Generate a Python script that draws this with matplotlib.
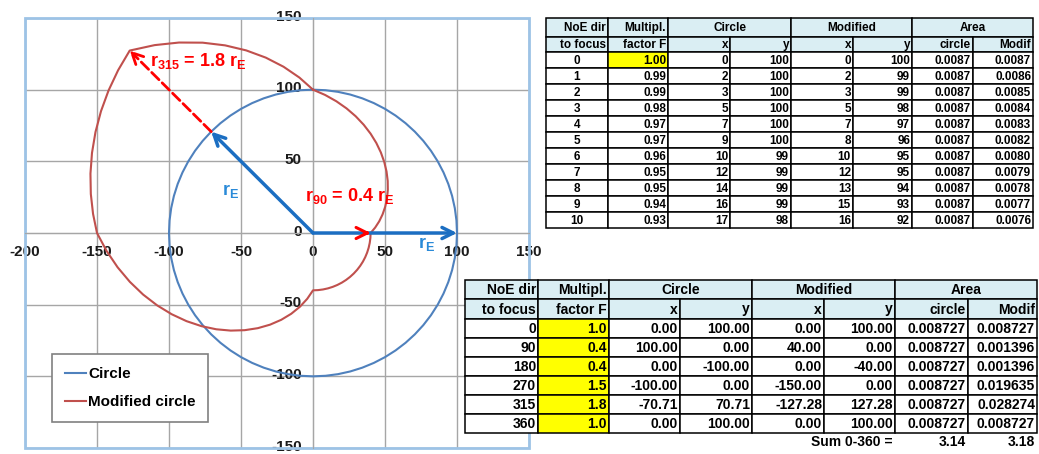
import numpy as np
import matplotlib
matplotlib.use('Agg')
import matplotlib.pyplot as plt
from matplotlib.patches import Rectangle
from matplotlib.lines import Line2D
from matplotlib.transforms import ScaledTranslation

plt.rcParams['font.family'] = ['Liberation Sans', 'DejaVu Sans']
plt.rcParams['axes.unicode_minus'] = False
plt.rcParams['mathtext.fontset'] = 'custom'
plt.rcParams['mathtext.rm'] = 'Liberation Sans:bold'
plt.rcParams['mathtext.it'] = 'Liberation Sans:bold'
plt.rcParams['mathtext.bf'] = 'Liberation Sans:bold'

# Radius of the earth circle and direction grid (degrees, clockwise from north)
r_E = 100
dirs = np.arange(0, 361, 5)

# Multiplication factor F per direction (read from the spreadsheet, every 5 deg)
mod_F = [1.0000, 0.9667, 0.9333, 0.9000, 0.8667, 0.8333, 0.8000, 0.7667, 0.7333, 0.7000,
         0.6667, 0.6333, 0.6000, 0.5667, 0.5333, 0.5000, 0.4667, 0.4333, 0.4000,
         0.4, 0.4, 0.4, 0.4, 0.4, 0.4, 0.4, 0.4, 0.4, 0.4, 0.4, 0.4, 0.4, 0.4, 0.4, 0.4, 0.4, 0.4,
         0.4611, 0.5222, 0.5833, 0.6444, 0.7056, 0.7667, 0.8278, 0.8889, 0.9500,
         1.0111, 1.0722, 1.1333, 1.1944, 1.2556, 1.3167, 1.3778, 1.4389, 1.5000,
         1.5333, 1.5667, 1.6000, 1.6333, 1.6667, 1.7000, 1.7333, 1.7667, 1.8000,
         1.7111, 1.6222, 1.5333, 1.4444, 1.3556, 1.2667, 1.1778, 1.0889, 1.0000]

# Top table (first directions)
top_dir = [0, 1, 2, 3, 4, 5, 6, 7, 8, 9, 10]
top_F = [1.00, 0.99, 0.99, 0.98, 0.97, 0.97, 0.96, 0.95, 0.95, 0.94, 0.93]
top_cx = [0, 2, 3, 5, 7, 9, 10, 12, 14, 16, 17]
top_cy = [100, 100, 100, 100, 100, 100, 99, 99, 99, 99, 98]
top_mx = [0, 2, 3, 5, 7, 8, 10, 12, 13, 15, 16]
top_my = [100, 99, 99, 98, 97, 96, 95, 95, 94, 93, 92]
top_ac = [0.0087] * 11
top_am = [0.0087, 0.0086, 0.0085, 0.0084, 0.0083, 0.0082, 0.0080, 0.0079, 0.0078, 0.0077, 0.0076]

# Bottom table (key directions)
key_dir = [0, 90, 180, 270, 315, 360]
key_F = [1.0, 0.4, 0.4, 1.5, 1.8, 1.0]
key_cx = [0.00, 100.00, 0.00, -100.00, -70.71, 0.00]
key_cy = [100.00, 0.00, -100.00, 0.00, 70.71, 100.00]
key_mx = [0.00, 40.00, 0.00, -150.00, -127.28, 0.00]
key_my = [100.00, 0.00, -40.00, 0.00, 127.28, 100.00]
key_ac = [0.008727] * 6
key_am = [0.008727, 0.001396, 0.001396, 0.019635, 0.028274, 0.008727]
sum_circle = 3.14
sum_modif = 3.18

W, H = 1039, 454
fig = plt.figure(figsize=(W / 100, H / 100), dpi=100)
ax = fig.add_axes([25 / W, 6 / H, 504 / W, 430 / H])

theta = np.radians(dirs)
circ_r = np.full(len(dirs), r_E)
mod_r = r_E * np.array(mod_F)

c_blue = '#4F81BD'
c_red = '#C0504D'
ax.plot(circ_r * np.sin(theta), circ_r * np.cos(theta), color=c_blue, lw=1.5, zorder=3)
ax.plot(mod_r * np.sin(theta), mod_r * np.cos(theta), color=c_red, lw=1.5, zorder=3)

ax.set_xlim(-200, 150)
ax.set_ylim(-150, 150)
ax.set_xticks(np.arange(-200, 151, 50))
ax.set_yticks(np.arange(-150, 151, 50))
ax.grid(True, color='#A6A6A6', lw=1)
ax.set_axisbelow(True)
for s in ['top', 'right']:
    ax.spines[s].set_visible(False)
ax.spines['left'].set_position('zero')
ax.spines['bottom'].set_position('zero')
ax.spines['left'].set_color('#A6A6A6')
ax.spines['bottom'].set_color('#A6A6A6')
ax.tick_params(length=0, labelsize=11, labelcolor='#1A1A1A')
ax.tick_params(axis='x', pad=9)
ax.tick_params(axis='y', pad=8)
for lab in ax.get_xticklabels() + ax.get_yticklabels():
    lab.set_fontweight('bold')
for lab in ax.get_yticklabels():
    lab.set_transform(lab.get_transform() + ScaledTranslation(0, 2 / 72, fig.dpi_scale_trans))
ax.add_patch(Rectangle((0, 0), 1, 1, transform=ax.transAxes, fill=False,
                       ec='#9DC3E6', lw=2, clip_on=False, zorder=1))

# Arrows
i90, i315 = key_dir.index(90), key_dir.index(315)
arrow_blue = '#1B6EC2'
ax.annotate('', xy=(key_cx[i90], key_cy[i90]), xytext=(0, 0),
            arrowprops=dict(arrowstyle='->', color=arrow_blue, lw=2.5, mutation_scale=20,
                            shrinkA=0, shrinkB=0), zorder=5)
ax.annotate('', xy=(key_cx[i315], key_cy[i315]), xytext=(0, 0),
            arrowprops=dict(arrowstyle='->', color=arrow_blue, lw=2.5, mutation_scale=20,
                            shrinkA=0, shrinkB=0), zorder=5)
ax.annotate('', xy=(key_mx[i90], key_my[i90]), xytext=(0.9 * key_mx[i90], key_my[i90]),
            arrowprops=dict(arrowstyle='->', color='#FF0000', lw=2.2, mutation_scale=20,
                            shrinkA=0, shrinkB=0), zorder=6)
ax.annotate('', xy=(key_mx[i315], key_my[i315]), xytext=(key_cx[i315], key_cy[i315]),
            arrowprops=dict(arrowstyle='->', color='#FF0000', lw=2, ls='--', mutation_scale=20,
                            shrinkA=0, shrinkB=0), zorder=5)

ax.text(-113, 120, r'$r_{315}$ = 1.8 $r_E$', color='#FF0000', fontsize=13,
        fontweight='bold', ha='left', va='center', zorder=7)
ax.text(-5.5, 26, r'$r_{90}$ = 0.4 $r_E$', color='#FF0000', fontsize=13,
        fontweight='bold', ha='left', va='center', zorder=7)
ax.text(-63, 29, r'$r_E$', color='#2A8AD8', fontsize=13, ha='left', va='center', zorder=7)
ax.text(73, -8, r'$r_E$', color='#2A8AD8', fontsize=13, ha='left', va='center', zorder=7)

handles = [Line2D([], [], color=c_blue, lw=1.5), Line2D([], [], color=c_red, lw=1.5)]
leg = ax.legend(handles, ['Circle', 'Modified circle'], loc='upper left',
                bbox_to_anchor=(52 / W, 1 - 354 / H), bbox_transform=fig.transFigure,
                borderaxespad=0, fancybox=False, edgecolor='#808080', framealpha=1,
                handlelength=1.4, handletextpad=0.1, labelspacing=0.95, borderpad=0.85,
                prop={'weight': 'bold', 'size': 11})
leg.get_frame().set_linewidth(1.2)
leg.set_zorder(8)

# Overlay for the two tables (pixel coordinates)
tx = fig.add_axes([0, 0, 1, 1], zorder=10)
tx.set_xlim(0, W)
tx.set_ylim(H, 0)
tx.axis('off')

hdr = '#DAEEF3'


def cell(x0, x1, y0, y1, text='', fc='white', ha='right', fs=9):
    tx.add_patch(Rectangle((x0, y0), x1 - x0, y1 - y0, fc=fc, ec='black', lw=1.1))
    if text:
        px = x1 - 2 if ha == 'right' else (x0 + x1) / 2
        tx.text(px, (y0 + y1) / 2 + 0.5, text, ha=ha, va='center', fontsize=fs,
                fontweight='bold', color='black')


def table(xe, ye, rows, fmt_dir_ha, fs):
    # header rows
    cell(xe[0], xe[1], ye[0], ye[1], 'NoE dir', hdr, 'right', fs)
    cell(xe[1], xe[2], ye[0], ye[1], 'Multipl.', hdr, 'right', fs)
    cell(xe[2], xe[4], ye[0], ye[1], 'Circle', hdr, 'center', fs)
    cell(xe[4], xe[6], ye[0], ye[1], 'Modified', hdr, 'center', fs)
    cell(xe[6], xe[8], ye[0], ye[1], 'Area', hdr, 'center', fs)
    for j, t in enumerate(['to focus', 'factor F', 'x', 'y', 'x', 'y', 'circle', 'Modif']):
        cell(xe[j], xe[j + 1], ye[1], ye[2], t, hdr, 'right', fs)
    for i, row in enumerate(rows):
        y0, y1 = ye[2 + i], ye[3 + i]
        for j, (t, fc) in enumerate(row):
            cell(xe[j], xe[j + 1], y0, y1, t, fc, fmt_dir_ha if j == 0 else 'right', fs)


yel = '#FFFF00'
top_rows = []
for i in range(len(top_dir)):
    top_rows.append([(f'{top_dir[i]}', 'white'), (f'{top_F[i]:.2f}', yel if i == 0 else 'white'),
                     (f'{top_cx[i]}', 'white'), (f'{top_cy[i]}', 'white'),
                     (f'{top_mx[i]}', 'white'), (f'{top_my[i]}', 'white'),
                     (f'{top_ac[i]:.4f}', 'white'), (f'{top_am[i]:.4f}', 'white')])
top_xe = [546, 608, 668, 730, 791, 853, 912, 973, 1033]
top_ye = [18, 37, 52] + [52 + 16 * (k + 1) for k in range(len(top_dir))]
table(top_xe, top_ye, top_rows, 'center', 8.5)

key_rows = []
for i in range(len(key_dir)):
    key_rows.append([(f'{key_dir[i]}', 'white'), (f'{key_F[i]:.1f}', yel),
                     (f'{key_cx[i]:.2f}', 'white'), (f'{key_cy[i]:.2f}', 'white'),
                     (f'{key_mx[i]:.2f}', 'white'), (f'{key_my[i]:.2f}', 'white'),
                     (f'{key_ac[i]:.6f}', 'white'), (f'{key_am[i]:.6f}', 'white')])
bot_xe = [465, 538, 609, 680, 752, 824, 895, 968, 1037]
bot_ye = [280, 299, 319] + [319 + 19 * (k + 1) for k in range(len(key_dir))]
table(bot_xe, bot_ye, key_rows, 'right', 10)

tx.text(893, 442, 'Sum 0-360 =', ha='right', va='center', fontsize=10, fontweight='bold')
tx.text(966, 442, f'{sum_circle:.2f}', ha='right', va='center', fontsize=10, fontweight='bold')
tx.text(1035, 442, f'{sum_modif:.2f}', ha='right', va='center', fontsize=10, fontweight='bold')

fig.savefig('out.png', dpi=100)
